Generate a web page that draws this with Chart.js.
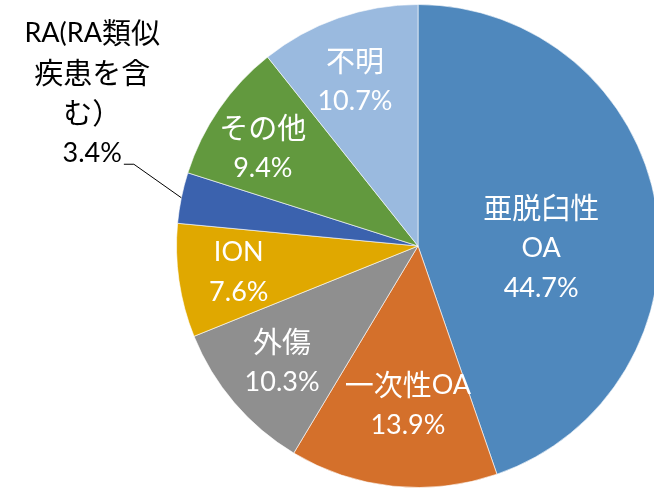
<!DOCTYPE html>
<html>
<head>
<meta charset="utf-8">
<script src="https://cdn.jsdelivr.net/npm/chart.js@4/dist/chart.umd.min.js"></script>
<style>
  body { margin: 0; background: #fff; overflow: hidden; width: 654px; height: 489px; }
  canvas { display: block; }
</style>
</head>
<body>
<canvas id="chart" width="700" height="489"></canvas>
<script>
// data
var categories = ['亜脱臼性OA', '一次性OA', '外傷', 'ION', 'RA(RA類似疾患を含む）', 'その他', '不明'];
var values = [44.7, 13.9, 10.3, 7.6, 3.4, 9.4, 10.7];
var labelLines = [
  ['亜脱臼性', 'OA'],
  ['一次性OA'],
  ['外傷'],
  ['ION'],
  ['RA(RA類似', '疾患を含', 'む）'],
  ['その他'],
  ['不明']
];

// styles
var colors = ['#4f88bd', '#d4702b', '#8f8f8f', '#e0a800', '#3b62ae', '#62993e', '#9abadf'];
var labelRadius = [0.51, 0.66, 0.74, 0.75, 1.49, 0.76, 0.73];
var labelShift = [10.5, -2.3, 0, 0, 13.6, -2.3, -1.7];
var LATIN_FONT = '27px Lato, sans-serif';
var CJK_FONT = '29px "Noto Sans CJK JP", sans-serif';
var LINE_H = 40;

function runs(text) {
  var out = [];
  for (const ch of text) {
    const cjk = /[\u3000-\u9fff\uff00-\uffef]/.test(ch);
    if (out.length && out[out.length - 1].cjk === cjk) out[out.length - 1].t += ch;
    else out.push({ t: ch, cjk: cjk });
  }
  return out;
}

function lineWidth(ctx, text) {
  var w = 0;
  runs(text).forEach(function (r) {
    ctx.font = r.cjk ? CJK_FONT : LATIN_FONT;
    w += ctx.measureText(r.t).width;
  });
  return w;
}

function drawLine(ctx, text, cx, y) {
  var x = cx - lineWidth(ctx, text) / 2;
  runs(text).forEach(function (r) {
    ctx.font = r.cjk ? CJK_FONT : LATIN_FONT;
    ctx.fillText(r.t, x, y);
    x += ctx.measureText(r.t).width;
  });
}

const pieLabels = {
  id: 'pieLabels',
  afterDatasetsDraw(chart) {
    const ctx = chart.ctx;
    const arcs = chart.getDatasetMeta(0).data;
    ctx.save();
    ctx.textAlign = 'left';
    ctx.textBaseline = 'middle';
    arcs.forEach(function (arc, i) {
      const p = arc.getProps(['x', 'y', 'startAngle', 'endAngle', 'outerRadius'], true);
      const mid = (p.startAngle + p.endAngle) / 2;
      const a = mid + labelShift[i] * Math.PI / 180;
      const r = p.outerRadius * labelRadius[i];
      const cx = p.x + Math.cos(a) * r;
      const cy = p.y + Math.sin(a) * r;
      const lines = labelLines[i].concat([values[i].toFixed(1) + '%']);
      const outside = labelRadius[i] > 1;
      ctx.fillStyle = outside ? '#000' : '#fff';
      const top = cy - (lines.length - 1) * LINE_H / 2;
      lines.forEach(function (t, k) {
        drawLine(ctx, t, cx, top + k * LINE_H);
      });
      if (outside) {
        // leader line from last text line to the arc edge
        const lastY = top + (lines.length - 1) * LINE_H + 11;
        const w = lineWidth(ctx, lines[lines.length - 1]);
        const x0 = cx + w / 2 + 2;
        const ex = p.x + Math.cos(mid) * p.outerRadius;
        const ey = p.y + Math.sin(mid) * p.outerRadius;
        ctx.strokeStyle = '#000';
        ctx.lineWidth = 1;
        ctx.beginPath();
        ctx.moveTo(x0, lastY);
        ctx.lineTo(x0 + 10, lastY);
        ctx.lineTo(ex, ey);
        ctx.stroke();
      }
    });
    ctx.restore();
  }
};

new Chart(document.getElementById('chart'), {
  type: 'pie',
  data: {
    labels: categories,
    datasets: [{
      data: values,
      backgroundColor: colors,
      borderColor: 'rgba(255,255,255,0.6)',
      borderWidth: 1
    }]
  },
  options: {
    responsive: false,
    animation: false,
    devicePixelRatio: 1,
    layout: { padding: { left: 176, top: 4, right: 40, bottom: 1 } },
    plugins: {
      legend: { display: false },
      tooltip: { enabled: false }
    }
  },
  plugins: [pieLabels]
});
</script>
</body>
</html>
